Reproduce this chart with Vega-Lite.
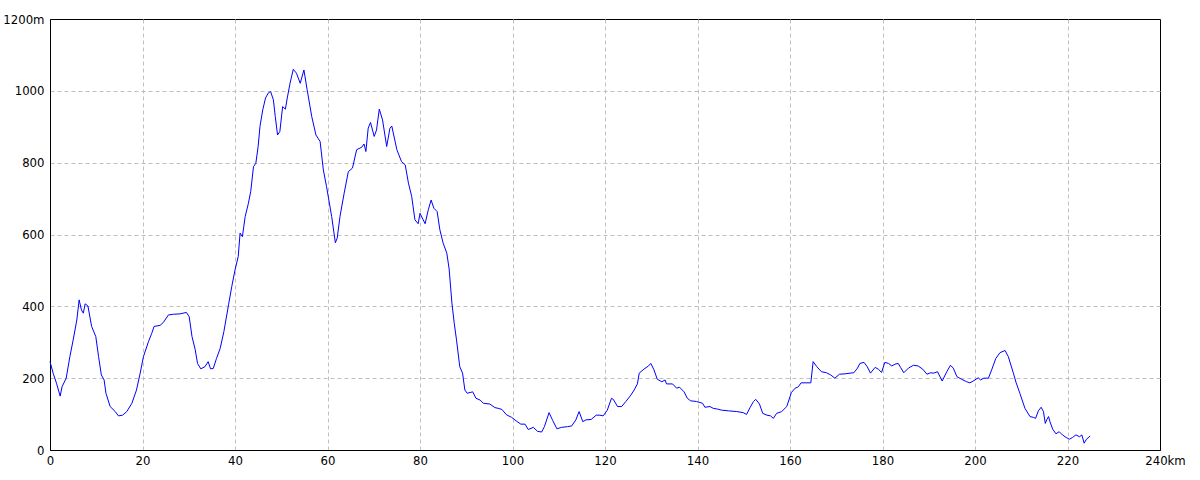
{
"$schema":"https://vega.github.io/schema/vega-lite/v6.json",
"width":1110,"height":431,
"autosize":{"type":"none"},
"padding":{"left":50,"top":19,"right":40,"bottom":30},
"background":"white",
"config":{
 "view":{"stroke":"#000000","strokeWidth":1},
 "axis":{"labelFont":"'Liberation Sans Narrow', 'DejaVu Sans Condensed', 'Liberation Sans', sans-serif","labelFontSize":13,"labelColor":"#000000","domainColor":"#000000","domainWidth":1,"ticks":false,"grid":true,"gridColor":"#c0c0c0","gridDash":[4,3],"gridWidth":1,"title":null,"labelFlush":false,"labelOverlap":false}
},
"data":{"values":[
{"d":0,"e":246},{"d":0.7,"e":213},{"d":1.4,"e":186},{"d":2.2,"e":150},{"d":2.6,"e":176},{"d":3.5,"e":200},{"d":4.3,"e":260},{"d":5.0,"e":306},{"d":5.8,"e":362},{"d":6.3,"e":418},{"d":6.8,"e":390},{"d":7.2,"e":381},{"d":7.6,"e":407},{"d":8.2,"e":401},{"d":9.0,"e":344},{"d":9.9,"e":316},{"d":10.5,"e":260},{"d":11.1,"e":209},{"d":11.7,"e":195},{"d":12.1,"e":158},{"d":13.0,"e":121},{"d":14.1,"e":107},{"d":14.8,"e":95},{"d":15.7,"e":97},{"d":16.6,"e":107},{"d":17.7,"e":130},{"d":18.7,"e":167},{"d":19.5,"e":214},{"d":20.2,"e":260},{"d":21.3,"e":302},{"d":22.0,"e":325},{"d":22.5,"e":344},{"d":23.8,"e":347},{"d":24.5,"e":355},{"d":25.6,"e":376},{"d":26.7,"e":378},{"d":28.1,"e":379},{"d":29.5,"e":383},{"d":30.1,"e":371},{"d":30.7,"e":316},{"d":31.4,"e":279},{"d":31.9,"e":241},{"d":32.6,"e":226},{"d":33.5,"e":232},{"d":34.2,"e":246},{"d":34.7,"e":226},{"d":35.3,"e":227},{"d":36.0,"e":255},{"d":36.8,"e":283},{"d":37.6,"e":330},{"d":38.6,"e":404},{"d":39.3,"e":455},{"d":40.0,"e":501},{"d":40.7,"e":539},{"d":41.1,"e":604},{"d":41.6,"e":594},{"d":42.2,"e":650},{"d":42.9,"e":687},{"d":43.4,"e":720},{"d":44.0,"e":789},{"d":44.5,"e":798},{"d":45.0,"e":845},{"d":45.4,"e":901},{"d":46.0,"e":947},{"d":46.6,"e":980},{"d":47.2,"e":994},{"d":47.7,"e":998},{"d":48.3,"e":975},{"d":48.7,"e":929},{"d":49.2,"e":877},{"d":49.7,"e":887},{"d":50.3,"e":956},{"d":50.9,"e":949},{"d":51.3,"e":980},{"d":51.9,"e":1021},{"d":52.6,"e":1060},{"d":53.3,"e":1049},{"d":54.1,"e":1021},{"d":54.9,"e":1058},{"d":55.6,"e":1003},{"d":56.6,"e":928},{"d":57.5,"e":877},{"d":58.4,"e":859},{"d":59.1,"e":780},{"d":59.8,"e":733},{"d":60.9,"e":650},{"d":61.7,"e":577},{"d":62.1,"e":590},{"d":62.7,"e":650},{"d":63.6,"e":715},{"d":64.5,"e":775},{"d":65.4,"e":785},{"d":66.3,"e":836},{"d":67.4,"e":843},{"d":67.9,"e":852},{"d":68.3,"e":831},{"d":68.8,"e":896},{"d":69.3,"e":912},{"d":70.1,"e":873},{"d":70.6,"e":891},{"d":71.2,"e":949},{"d":71.9,"e":919},{"d":72.8,"e":845},{"d":73.5,"e":896},{"d":73.9,"e":902},{"d":75.0,"e":836},{"d":76.0,"e":803},{"d":76.8,"e":794},{"d":77.5,"e":743},{"d":78.2,"e":706},{"d":78.9,"e":641},{"d":79.6,"e":630},{"d":80.0,"e":659},{"d":81.1,"e":630},{"d":81.8,"e":669},{"d":82.4,"e":696},{"d":83.0,"e":673},{"d":83.7,"e":664},{"d":84.3,"e":613},{"d":85.0,"e":576},{"d":85.8,"e":548},{"d":86.3,"e":504},{"d":86.9,"e":409},{"d":87.4,"e":353},{"d":87.9,"e":306},{"d":88.6,"e":232},{"d":89.2,"e":214},{"d":89.7,"e":167},{"d":90.2,"e":158},{"d":91.4,"e":162},{"d":92.1,"e":144},{"d":93.0,"e":139},{"d":93.7,"e":130},{"d":95.1,"e":128},{"d":96.2,"e":118},{"d":96.9,"e":116},{"d":97.7,"e":113},{"d":98.7,"e":98},{"d":99.8,"e":91},{"d":100.8,"e":81},{"d":101.8,"e":72},{"d":102.7,"e":72},{"d":103.4,"e":57},{"d":104.5,"e":63},{"d":105.4,"e":52},{"d":106.3,"e":50},{"d":106.9,"e":65},{"d":107.9,"e":104},{"d":108.7,"e":82},{"d":109.6,"e":59},{"d":110.6,"e":63},{"d":111.9,"e":65},{"d":112.8,"e":67},{"d":113.7,"e":84},{"d":114.4,"e":107},{"d":115.2,"e":79},{"d":115.9,"e":84},{"d":117.0,"e":85},{"d":118.1,"e":97},{"d":118.9,"e":97},{"d":119.6,"e":95},{"d":120.5,"e":111},{"d":121.4,"e":144},{"d":121.8,"e":141},{"d":122.7,"e":121},{"d":123.6,"e":121},{"d":124.5,"e":135},{"d":125.6,"e":153},{"d":126.3,"e":167},{"d":127.0,"e":184},{"d":127.4,"e":214},{"d":128.4,"e":225},{"d":129.4,"e":234},{"d":129.9,"e":241},{"d":130.6,"e":223},{"d":131.3,"e":197},{"d":132.3,"e":190},{"d":133.0,"e":195},{"d":133.3,"e":184},{"d":134.6,"e":184},{"d":135.5,"e":172},{"d":136.1,"e":175},{"d":137.1,"e":162},{"d":137.8,"e":144},{"d":138.5,"e":137},{"d":139.8,"e":135},{"d":141.1,"e":130},{"d":141.6,"e":119},{"d":142.7,"e":121},{"d":143.4,"e":116},{"d":144.3,"e":114},{"d":145.2,"e":111},{"d":146.7,"e":109},{"d":148.5,"e":107},{"d":149.9,"e":104},{"d":150.6,"e":99},{"d":151.4,"e":119},{"d":152.1,"e":135},{"d":152.6,"e":141},{"d":153.4,"e":128},{"d":154.1,"e":102},{"d":155.0,"e":97},{"d":155.8,"e":95},{"d":156.4,"e":88},{"d":157.1,"e":102},{"d":158.2,"e":107},{"d":159.3,"e":121},{"d":160.3,"e":160},{"d":161.1,"e":172},{"d":161.8,"e":176},{"d":162.4,"e":187},{"d":164.5,"e":187},{"d":165.0,"e":246},{"d":165.8,"e":232},{"d":166.8,"e":218},{"d":167.9,"e":215},{"d":168.8,"e":209},{"d":169.7,"e":200},{"d":170.7,"e":211},{"d":171.9,"e":212},{"d":173.0,"e":214},{"d":173.8,"e":215},{"d":174.6,"e":228},{"d":175.1,"e":241},{"d":176.0,"e":244},{"d":176.7,"e":232},{"d":177.4,"e":214},{"d":178.4,"e":230},{"d":179.1,"e":225},{"d":179.8,"e":216},{"d":180.5,"e":244},{"d":181.3,"e":241},{"d":182.0,"e":234},{"d":182.7,"e":239},{"d":183.4,"e":241},{"d":183.9,"e":230},{"d":184.6,"e":215},{"d":185.6,"e":228},{"d":186.7,"e":236},{"d":187.7,"e":234},{"d":188.7,"e":225},{"d":189.6,"e":211},{"d":190.4,"e":215},{"d":191.1,"e":214},{"d":191.9,"e":218},{"d":192.9,"e":192},{"d":193.9,"e":218},{"d":194.7,"e":236},{"d":195.3,"e":228},{"d":196.1,"e":204},{"d":197.1,"e":197},{"d":198.2,"e":190},{"d":198.9,"e":187},{"d":199.6,"e":192},{"d":200.7,"e":201},{"d":201.2,"e":195},{"d":201.9,"e":200},{"d":202.9,"e":200},{"d":203.6,"e":223},{"d":204.5,"e":255},{"d":205.4,"e":271},{"d":206.5,"e":277},{"d":207.2,"e":260},{"d":208.3,"e":214},{"d":208.9,"e":187},{"d":209.7,"e":158},{"d":210.8,"e":116},{"d":211.9,"e":93},{"d":212.6,"e":91},{"d":213.1,"e":88},{"d":213.7,"e":109},{"d":214.3,"e":119},{"d":214.8,"e":107},{"d":215.2,"e":74},{"d":215.5,"e":84},{"d":215.9,"e":93},{"d":216.2,"e":79},{"d":216.8,"e":58},{"d":217.5,"e":45},{"d":218.2,"e":51},{"d":218.9,"e":42},{"d":219.7,"e":35},{"d":220.4,"e":30},{"d":221.1,"e":35},{"d":221.8,"e":42},{"d":222.6,"e":37},{"d":223.1,"e":42},{"d":223.6,"e":19},{"d":224.1,"e":30},{"d":224.9,"e":39}
]},
"mark":{"type":"line","color":"#0000ff","strokeWidth":1,"interpolate":"linear"},
"encoding":{
 "x":{"field":"d","type":"quantitative","scale":{"domain":[0,240],"nice":false,"zero":false},
  "axis":{"values":[0,20,40,60,80,100,120,140,160,180,200,220,240],"format":"d","labelExpr":"datum.value==240?'240km':datum.label","labelPadding":4,"labelOffset":{"condition":{"test":"datum.value==240","value":5},"value":0},"gridOpacity":{"condition":{"test":"datum.value==240 || datum.value==0","value":0},"value":1}}},
 "y":{"field":"e","type":"quantitative","scale":{"domain":[0,1200],"nice":false},
  "axis":{"values":[0,200,400,600,800,1000,1200],"format":"d","labelExpr":"datum.value==1200?'1200m':datum.label","labelPadding":6,"gridOpacity":{"condition":{"test":"datum.value==1200 || datum.value==0","value":0},"value":1}}}
}
}
